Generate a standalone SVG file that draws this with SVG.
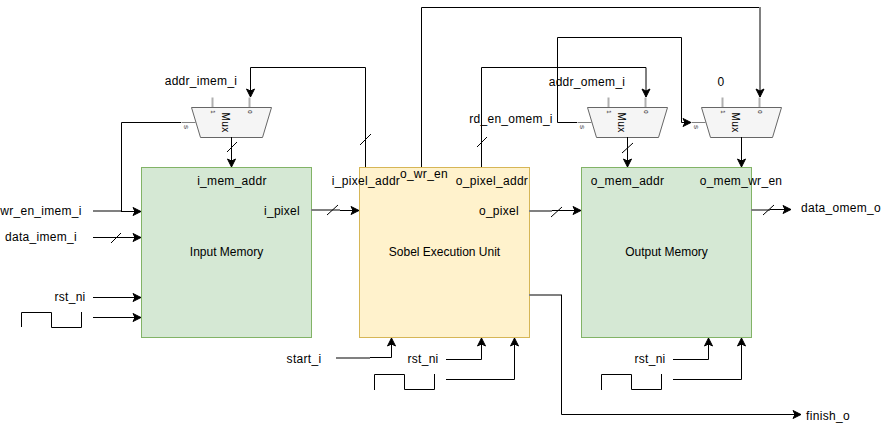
<svg xmlns="http://www.w3.org/2000/svg" width="882" height="432" viewBox="0 0 882 432">
<style>
text{font-family:"Liberation Sans",Arial,sans-serif;font-size:12px;fill:#000;letter-spacing:.3px}
.c{text-anchor:middle}
text.n{letter-spacing:0}
.w{fill:none;stroke:#000;stroke-width:1}
.g{fill:none;stroke:#808080;stroke-width:2}
.mem{fill:#d5e8d4;stroke:#82b366}
.exe{fill:#fff2cc;stroke:#d6b656}
.mux{fill:#f5f5f5;stroke:#666}
.pin{stroke:#b0b0b0;stroke-width:2;fill:none}
.mt{font-size:6px;letter-spacing:0;text-anchor:middle}
.mn{font-size:10px;letter-spacing:.4px;text-anchor:middle}
</style>
<defs>
<marker id="a" markerUnits="userSpaceOnUse" markerWidth="11" markerHeight="11" refX="9" refY="5" orient="auto"><path d="M1 1L9 5L1 9L3 5Z" fill="#000" stroke="#000" stroke-width="1"/></marker>
<g id="m">
<path class="pin" d="M63 0V10M100 0V10"/>
<path class="w" d="M32 25H46" style="stroke:#808080"/>
<path class="mux" d="M42 10H122L113 40H51Z"/>
</g>
</defs>
<rect width="882" height="432" fill="#fff"/>
<g id="input-memory"><rect class="mem" x="141.500" y="167.500" width="170" height="170"/><text class="c n" x="226.500" y="256">Input Memory</text><text class="c" x="232" y="185">i_mem_addr</text><text class="c" x="282" y="215">i_pixel</text></g>
<g id="sobel-unit"><rect class="exe" x="359.500" y="167.500" width="170" height="170"/><text class="c n" x="444.500" y="256">Sobel Execution Unit</text><text class="c" x="366" y="185">i_pixel_addr</text><text class="c" x="424" y="178">o_wr_en</text><text class="c" x="492" y="185">o_pixel_addr</text><text class="c" x="499" y="215">o_pixel</text></g>
<g id="output-memory"><rect class="mem" x="581.500" y="167.500" width="170" height="170"/><text class="c n" x="666.500" y="256">Output Memory</text><text class="c" x="627.500" y="185">o_mem_addr</text><text class="c" x="741" y="185">o_mem_wr_en</text></g>
<g id="mux-imem"><use href="#m" x="149.500" y="97.500"/><text class="mn" transform="translate(222 122.500) rotate(90)">Mux</text><text class="mt" transform="translate(211 112) rotate(90)">1</text><text class="mt" transform="translate(248 112) rotate(90)">0</text><text class="mt" transform="translate(184 127) rotate(90)">S</text></g>
<g id="mux-omem"><use href="#m" x="545.500" y="97.500"/><text class="mn" transform="translate(618 122.500) rotate(90)">Mux</text><text class="mt" transform="translate(607 112) rotate(90)">1</text><text class="mt" transform="translate(644 112) rotate(90)">0</text><text class="mt" transform="translate(580 127) rotate(90)">S</text></g>
<g id="mux-wren"><use href="#m" x="659.500" y="97.500"/><text class="mn" transform="translate(732 122.500) rotate(90)">Mux</text><text class="mt" transform="translate(721 112) rotate(90)">1</text><text class="mt" transform="translate(758 112) rotate(90)">0</text><text class="mt" transform="translate(694 127) rotate(90)">S</text></g>
<g id="connectors">
<path class="w" d="M365.500 167V67.500H250.500V97" marker-end="url(#a)"/>
<path class="w" d="M121.500 211V122.500H181"/>
<path class="g" d="M93 211H121"/>
<path class="w" d="M121 211.500H141" marker-end="url(#a)"/>
<path class="w" d="M93 237.500H141" marker-end="url(#a)"/>
<path class="w" d="M93 297.500H141" marker-end="url(#a)"/>
<path class="w" d="M93 317.500H141" marker-end="url(#a)"/>
<path class="w" d="M231.500 137V167" marker-end="url(#a)"/>
<path class="g" d="M311 210H340"/>
<path class="w" d="M340 210.500H359" marker-end="url(#a)"/>
<path class="w" d="M421.500 167V7.500H760"/>
<path class="g" d="M760 7V90"/>
<path class="w" d="M760 90V97" marker-end="url(#a)"/>
<path class="w" d="M481.500 167V67.500H646V97" marker-end="url(#a)"/>
<path class="w" d="M577 122.500H557.500V37.500H681.500V122.500H691" marker-end="url(#a)"/>
<path class="w" d="M627.500 137V167" marker-end="url(#a)"/>
<path class="w" d="M741.500 137V167" marker-end="url(#a)"/>
<path class="g" d="M529 211H552"/>
<path class="w" d="M552 210.500H581" marker-end="url(#a)"/>
<path class="g" d="M751 210H770"/>
<path class="w" d="M770 209.500H791" marker-end="url(#a)"/>
<path class="g" d="M529 295H562"/>
<path class="w" d="M561.500 295V414.500H801" marker-end="url(#a)"/>
<path class="g" d="M336 358H370"/>
<path class="w" d="M370 357.500H391.500V338" marker-end="url(#a)"/>
<path class="w" d="M446 359.500H481.500V338" marker-end="url(#a)"/>
<path class="w" d="M446 379.500H514.500V338" marker-end="url(#a)"/>
<path class="w" d="M673 359.500H708.500V338" marker-end="url(#a)"/>
<path class="w" d="M673 379.500H741.500V338" marker-end="url(#a)"/>
<path class="w" d="M111 243L121 233M227 152L237 142M327 215L338 205M360 145L371 134M551 217L562 207M622 153L633 143M763 215L774 205M477 147L487 137"/>
<path class="w" d="M21.500 327V312.500H51.500V327.500H81.500V312"/>
<path class="w" d="M374.500 390V374.500H404.500V389.500H434.500V374"/>
<path class="w" d="M601.500 390V374.500H631.500V389.500H661.500V374"/>
</g>
<text class="c" x="201" y="85">addr_imem_i</text>
<text class="c" x="587" y="86">addr_omem_i</text>
<text class="c" x="721" y="86">0</text>
<text class="c" x="511" y="123">rd_en_omem_i</text>
<text class="c" x="41" y="215">wr_en_imem_i</text>
<text class="c" x="41" y="241">data_imem_i</text>
<text class="c" x="70" y="301">rst_ni</text>
<text class="c" x="304" y="363">start_i</text>
<text class="c" x="423" y="363">rst_ni</text>
<text class="c" x="650" y="363">rst_ni</text>
<text class="c" x="841" y="212">data_omem_o</text>
<text class="c" x="828" y="420">finish_o</text>
</svg>
